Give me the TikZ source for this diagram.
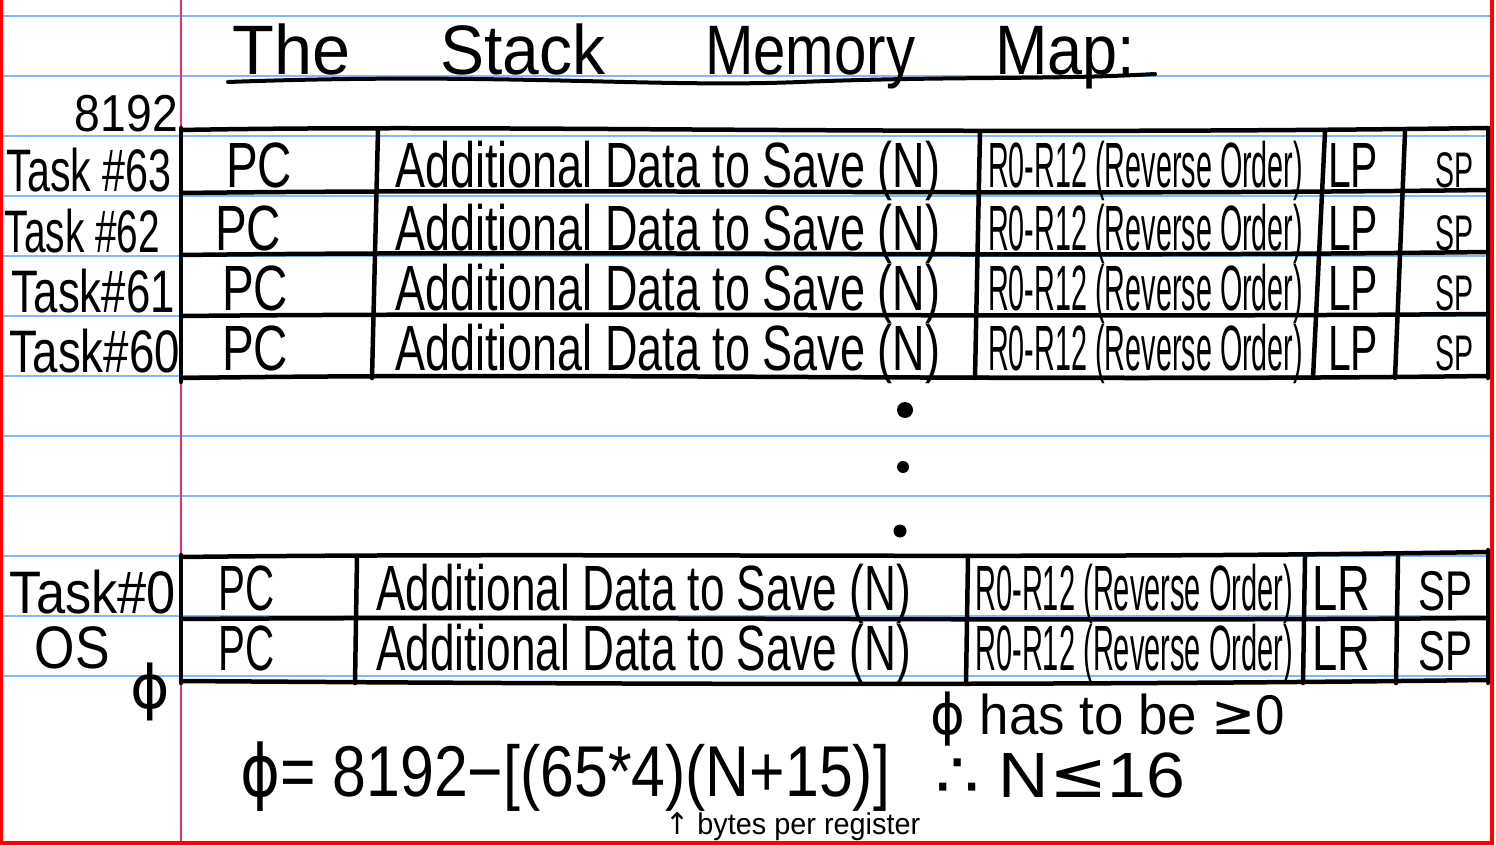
\documentclass[tikz,border=0pt]{standalone}
\usepackage{fontspec}
\setmainfont{Liberation Sans}
\newfontfamily\symfont{DejaVu Sans}
\usetikzlibrary{positioning,calc}
\definecolor{ruleBlue}{RGB}{125,185,255}
\definecolor{marginPink}{RGB}{235,45,120}
\definecolor{pageRed}{RGB}{255,0,0}
\newcommand{\hw}[2]{\resizebox{#1}{\height}{#2}}
\tikzset{
    ink/.style={line width=4.5pt, line cap=round, line join=round},
    rulerow/.style={draw=ruleBlue, line width=2.5pt},
    cell/.style={anchor=base west, inner sep=0pt, font=\fontsize{64}{64}\selectfont},
    tag/.style={anchor=base east, inner sep=0pt, font=\fontsize{60}{60}\selectfont},
    note/.style={anchor=base west, inner sep=0pt, font=\fontsize{56}{56}\selectfont}
}
\begin{document}
\begin{tikzpicture}[x=1pt, y=-1pt]
\useasboundingbox (0,0) rectangle (1496,845);
\fill[white] (0,0) rectangle (1496,845);

% Notebook paper
\foreach \y in {16,76,...,676}
    \draw[rulerow] (0,\y) -- (1490,\y);
\draw[marginPink, line width=1.5pt] (181,0) -- (181,845);
\draw[pageRed, line width=4pt] (1,0) -- (1,843) -- (1492,843) -- (1492,0);

% Title
\node[anchor=base west, inner sep=0pt, font=\fontsize{70}{70}\selectfont] (tThe) at (232,75) {\hw{118pt}{The}};
\node[anchor=base west, inner sep=0pt, font=\fontsize{70}{70}\selectfont] (tStack) at (440,75) {\hw{165pt}{Stack}};
\node[anchor=base west, inner sep=0pt, font=\fontsize{70}{70}\selectfont] (tMemory) at (705,75) {\hw{210pt}{Memory}};
\node[anchor=base west, inner sep=0pt, font=\fontsize{70}{70}\selectfont] (tMap) at (995,75) {\hw{140pt}{Map:}};
\draw[line width=4pt, line cap=round] (228,82) .. controls (500,72) and (650,88) .. (800,82) .. controls (950,76) and (1050,80) .. (1155,74);

% Upper block of stack frames
\draw[ink] (181,130) .. controls (500,124) and (900,136) .. (1488,128);
\draw[ink] (181,193) .. controls (600,188) and (1000,196) .. (1488,190);
\draw[ink] (181,255) .. controls (600,250) and (1000,258) .. (1488,252);
\draw[ink] (181,316) .. controls (600,312) and (1000,318) .. (1488,314);
\draw[ink] (181,378) .. controls (600,372) and (1000,382) .. (1488,376);
\draw[ink] (181,128) -- (181,382);
\draw[ink] (378,130) -- (372,378);
\draw[ink] (980,132) -- (975,378);
\draw[ink] (1325,132) -- (1313,378);
\draw[ink] (1405,132) -- (1395,378);
\draw[ink] (1488,128) -- (1488,378);

\foreach \r/\b/\px in {1/188/226,2/250/215,3/310/222,4/370/222} {
    \node[cell] (pc\r) at (\px,\b) {\hw{66pt}{PC}};
    \node[cell] (data\r) at (395,\b) {\hw{545pt}{Additional Data to Save (N)}};
    \node[cell] (regs\r) at (988,\b) {\hw{315pt}{R0-R12 (Reverse Order)}};
    \node[cell] (lp\r) at (1328,\b) {\hw{50pt}{LP}};
    \node[cell, font=\fontsize{50}{50}\selectfont] (sp\r) at (1435,\b) {\hw{38pt}{SP}};
}

% Upper labels
\node[tag, font=\fontsize{52}{52}\selectfont] (top) at (178,132) {\hw{103pt}{8192}};
\node[tag] (task63) at (172,192) {\hw{165pt}{Task \#63}};
\node[tag] (task62) at (160,252) {\hw{155pt}{Task \#62}};
\node[tag] (task61) at (175,312) {\hw{163pt}{Task\#61}};
\node[tag] (task60) at (180,372) {\hw{170pt}{Task\#60}};

% Continuation dots
\fill (905,410) circle (8pt);
\fill (903,467) circle (6pt);
\fill (900,531) circle (6.5pt);

% Lower block
\draw[ink] (181,557) .. controls (600,552) and (1000,560) .. (1488,552);
\draw[ink] (181,619) .. controls (600,616) and (1000,622) .. (1488,618);
\draw[ink] (181,681) .. controls (600,684) and (1000,686) .. (1488,680);
\draw[ink] (181,555) -- (181,683);
\draw[ink] (357,557) -- (355,683);
\draw[ink] (968,557) -- (966,683);
\draw[ink] (1305,557) -- (1303,683);
\draw[ink] (1398,557) -- (1396,683);
\draw[ink] (1488,550) -- (1488,683);

\foreach \r/\b in {1/610,2/670} {
    \node[cell] (pcB\r) at (218,\b) {\hw{56pt}{PC}};
    \node[cell] (dataB\r) at (376,\b) {\hw{535pt}{Additional Data to Save (N)}};
    \node[cell] (regsB\r) at (975,\b) {\hw{318pt}{R0-R12 (Reverse Order)}};
    \node[cell] (lrB\r) at (1312,\b) {\hw{58pt}{LR}};
    \node[cell, font=\fontsize{56}{56}\selectfont] (spB\r) at (1418,\b) {\hw{54pt}{SP}};
}

% Lower labels
\node[tag] (task0) at (176,613) {\hw{166pt}{Task\#0}};
\node[tag] (os) at (110,668) {\hw{75pt}{OS}};
\node[inner sep=0pt, font=\symfont\fontsize{60}{60}\selectfont] (zero) at (150,692) {ϕ};

% Size of the free space
\node[anchor=base west, inner sep=0pt, font=\fontsize{72}{72}\selectfont] (formula) at (240,796)
    {\hw{650pt}{{\symfont ϕ}= 8192−[(65*4)(N+15)]}};
\node[note] (cond) at (930,734) {\hw{355pt}{{\symfont ϕ} has to be {\symfont ≥}0}};
\node[note, font=\fontsize{64}{64}\selectfont] (result) at (935,797) {\hw{250pt}{{\symfont ∴} N{\symfont ≤}16}};
\node[note, font=\fontsize{30}{30}\selectfont] (bytes) at (665,834) {\hw{255pt}{{\symfont ↑} bytes per register}};
\end{tikzpicture}
\end{document}
